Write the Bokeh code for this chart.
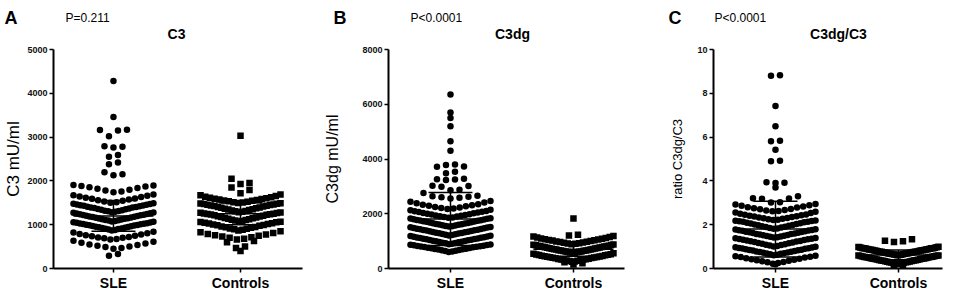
from math import floor
from bokeh.plotting import figure
from bokeh.layouts import row, column
from bokeh.models import FixedTicker
from bokeh.core.properties import value
from bokeh.embed import file_html
from bokeh.resources import INLINE

groups = ["SLE", "Controls"]

# ---------------- data ----------------
c3_sle = [290, 330,
          450, 470, 490, 505, 520, 535, 550, 570, 590, 610, 635,
          660, 675, 690, 700, 710, 720, 735, 745, 760, 775, 790, 805, 820, 840,
          870, 880, 890, 900, 905, 915, 925, 930, 940, 950, 955, 965, 970, 980, 990, 995, 1000,
          1010, 1015, 1020, 1030, 1035, 1045, 1050, 1055, 1065,
          1075, 1085, 1095, 1100, 1110, 1120, 1125, 1135, 1140, 1150, 1160, 1165, 1175, 1180,
          1190, 1200, 1205, 1215, 1220, 1230, 1240, 1245, 1255, 1260, 1270, 1278,
          1285, 1295, 1305, 1315, 1320, 1330, 1340, 1350, 1360, 1370, 1380, 1390, 1395, 1405,
          1410, 1420, 1430, 1440, 1445, 1455, 1460, 1470, 1480, 1488,
          1500, 1515, 1530, 1545, 1560, 1575, 1590, 1600, 1615, 1630, 1645, 1660, 1675, 1690,
          1740, 1760, 1780, 1800, 1820, 1840, 1855, 1870, 1885, 1895, 1905,
          2130, 2150, 2200, 2380, 2420, 2550, 2590, 2760, 2780, 2790,
          3020, 3150, 3160, 3165, 3460, 4280]
c3_ctl = [400, 470, 500, 600, 630,
          660, 680, 700, 715, 730, 745, 760, 775, 790, 810, 830, 850,
          870, 885, 895, 905, 915, 930, 940, 950, 960, 975, 985, 995, 1005, 1015, 1025, 1035,
          1045, 1055, 1060, 1068,
          1075, 1085, 1095, 1105, 1115, 1125, 1135, 1145, 1155, 1165, 1175, 1185, 1195, 1205,
          1215, 1225, 1235, 1240, 1245, 1250, 1258, 1265, 1270, 1278,
          1285, 1295, 1305, 1315, 1325, 1335, 1345, 1355, 1365, 1375, 1385, 1395, 1405, 1415,
          1425, 1432, 1440, 1448, 1455, 1462, 1470, 1476, 1482, 1488,
          1495, 1505, 1515, 1525, 1535, 1545, 1555, 1565, 1575, 1585, 1595, 1605, 1615, 1625,
          1640, 1655, 1670, 1690,
          1720, 1790, 1850, 1930, 1950, 2050, 3030]

c3dg_sle = [600, 620, 635, 650, 665, 680, 690, 700, 715, 725, 740, 750, 760, 775, 785, 795,
            805, 815, 825, 835, 845, 855, 865, 875,
            890, 905, 920, 930, 945, 955, 970, 980, 995, 1005, 1015, 1030, 1040, 1050, 1065,
            1075, 1085, 1100, 1110, 1120, 1135, 1145, 1160, 1170, 1185, 1195,
            1210, 1225, 1235, 1250, 1260, 1275, 1285, 1300, 1310, 1320, 1335, 1345, 1360, 1370,
            1385, 1395, 1405, 1420, 1430, 1445, 1455, 1470, 1480, 1495, 1505, 1515,
            1530, 1545, 1555, 1570, 1580, 1595, 1605, 1620, 1630, 1640, 1655, 1665, 1680, 1690,
            1705, 1715, 1725, 1740, 1750, 1765, 1775, 1790, 1800, 1815, 1825, 1835,
            1850, 1865, 1880, 1895, 1910, 1925, 1940, 1955, 1970, 1985, 2000, 2015, 2030, 2045,
            2060, 2075, 2090, 2105, 2125, 2150,
            2170, 2190, 2210, 2230, 2250, 2270, 2290, 2310, 2330, 2350, 2380, 2410, 2440, 2470,
            2560, 2580, 2600, 2620, 2640, 2660, 2760,
            2860, 2880, 2990, 3010, 3020, 3230, 3250, 3260, 3280,
            3480, 3530, 3720, 3730, 3780, 3800,
            4300, 4650, 5200, 5500, 5700, 6360]
c3dg_ctl = [150, 190, 230,
            250, 260, 270, 280, 290, 300, 310, 320, 330, 340, 350, 360, 370, 380, 390, 400,
            410, 420, 430, 440, 450, 460, 470, 480, 490, 500, 510, 525, 540, 555,
            565, 575, 585, 590, 600, 610, 620, 625, 635, 645, 655, 660, 670, 680, 690, 695,
            705, 715, 725, 730, 740, 750, 760, 765, 775, 785, 795, 800, 810, 820, 830, 835,
            845, 855, 865, 875,
            885, 900, 910, 925, 940, 950, 965, 980, 990, 1005, 1020, 1030, 1045, 1060, 1070,
            1085, 1100, 1115, 1130, 1150, 1170, 1190,
            1210, 1230, 1830]

ratio_sle = [0.19,
             0.22, 0.25, 0.28, 0.30, 0.33, 0.35, 0.38, 0.40, 0.42, 0.45, 0.47, 0.50, 0.52, 0.54,
             0.56, 0.58,
             0.61, 0.63, 0.65, 0.67, 0.68, 0.70, 0.72, 0.73, 0.75, 0.77, 0.78, 0.80, 0.82, 0.83,
             0.85, 0.86, 0.88, 0.90, 0.91, 0.93, 0.94, 0.96, 0.97, 0.99,
             1.01, 1.03, 1.05, 1.07, 1.09, 1.11, 1.13, 1.15, 1.17, 1.19, 1.21, 1.23, 1.24, 1.26,
             1.28, 1.30, 1.31, 1.33, 1.35, 1.36, 1.38, 1.39,
             1.41, 1.43, 1.45, 1.46, 1.48, 1.50, 1.52, 1.53, 1.55, 1.57, 1.58, 1.60, 1.62, 1.63,
             1.65, 1.67, 1.68, 1.70, 1.72, 1.73, 1.75, 1.76, 1.78, 1.79,
             1.81, 1.83, 1.85, 1.87, 1.89, 1.91, 1.93, 1.95, 1.97, 1.99, 2.01, 2.03, 2.05, 2.07,
             2.09, 2.11, 2.13, 2.14, 2.16, 2.17, 2.18, 2.19,
             2.21, 2.23, 2.25, 2.27, 2.29, 2.31, 2.33, 2.35, 2.37, 2.39, 2.41, 2.43, 2.45, 2.47,
             2.50, 2.53, 2.56, 2.59,
             2.61, 2.63, 2.65, 2.67, 2.70, 2.72, 2.75, 2.78, 2.80, 2.83, 2.86, 2.89, 2.92, 2.95,
             3.01, 3.03, 3.18, 3.20, 3.21, 3.30,
             3.70, 3.90, 3.92, 3.94, 4.90, 4.92, 5.42, 5.81, 5.83, 6.50, 7.42, 8.80, 8.82]
ratio_ctl = [0.12, 0.16,
             0.21, 0.22, 0.23, 0.24, 0.25, 0.26, 0.27, 0.28, 0.29, 0.30, 0.31, 0.32, 0.33, 0.34,
             0.35, 0.36, 0.37, 0.38, 0.39, 0.40, 0.41, 0.42, 0.43, 0.44, 0.45, 0.46, 0.47, 0.48,
             0.49, 0.50, 0.51, 0.52, 0.53, 0.54, 0.55, 0.56, 0.57, 0.58, 0.59, 0.595,
             0.61, 0.62, 0.63, 0.63, 0.64, 0.65, 0.66, 0.67, 0.67, 0.68, 0.69, 0.70, 0.71, 0.72,
             0.72, 0.73, 0.74, 0.75, 0.76, 0.77, 0.77, 0.78, 0.79, 0.80, 0.81, 0.82, 0.82, 0.83,
             0.84, 0.85, 0.86, 0.87, 0.87, 0.88, 0.89, 0.90, 0.91, 0.92, 0.92, 0.93, 0.94, 0.95,
             0.96, 0.97, 0.98, 0.99,
             1.21, 1.25, 1.27, 1.34]

# mean and spread bars (SLE, Controls) per panel
bar_mean = [[1200, 1250], [1810, 700], [1.80, 0.62]]
bar_upper = [[1550, 1500], [2780, 950], [3.07, 0.85]]
bar_lower = [[850, 1000], [840, 450], [0.53, 0.40]]

titles = ["C3", "C3dg", "C3dg/C3"]
letters = ["A", "B", "C"]
pvalues = ["P=0.211", "P<0.0001", "P<0.0001"]
ylabels = ["C3 mU/ml", "C3dg mU/ml", "ratio C3dg/C3"]
yticks = [[0, 1000, 2000, 3000, 4000, 5000],
          [0, 2000, 4000, 6000, 8000],
          [0, 2, 4, 6, 8, 10]]
ymax = [5000, 8000, 10]
sle_data = [c3_sle, c3dg_sle, ratio_sle]
ctl_data = [c3_ctl, c3dg_ctl, ratio_ctl]

# ---------------- layout ----------------
FONT = "Liberation Sans"
HEAD_H = 43
TOP, FRAME_H, BOTTOM = 6, 222, 22
H = TOP + FRAME_H + BOTTOM
specs = [
    dict(width=320, left=53, right=18, xr=(0.528, 2.488), binw=210, bino=230,
         ylab_size="17px", ylab_standoff=1),
    dict(width=320, left=68, right=16, xr=(0.496, 2.415), binw=320, bino=560,
         ylab_size="16px", ylab_standoff=18),
    dict(width=322, left=73, right=20, xr=(0.496, 2.358), binw=0.4, bino=0.2,
         ylab_size="13px", ylab_standoff=9),
]
ctl_bin_origin = [230, 560, -0.2]
TOTAL_W = sum(s["width"] for s in specs)
# header text anchors, page pixels
letter_x = [4, 333, 668]
p_x = [65, 410, 714]
title_x = [176, 512, 838]

STEP_PX = 9.0
HALF_PX = 40.0


def swarm(values, center, binw, origin, ppu):
    bins = {}
    for v in values:
        k = floor((v - origin) / binw + 1e-9)
        bins.setdefault(k, []).append(v)
    xs, ys = [], []
    for k in sorted(bins):
        vs = sorted(bins[k])
        n = len(vs)
        step = STEP_PX if n == 1 else min(STEP_PX, 2 * HALF_PX / (n - 1))
        for i, v in enumerate(vs):
            if n % 2:
                slot = ((i + 1) // 2) * (1 if i % 2 else -1)
            else:
                slot = (i // 2 + 0.5) * (-1 if i % 2 == 0 else 1)
            xs.append(center + slot * step / ppu)
            ys.append(v)
    return xs, ys


# one header strip across all panels (pixel coordinates, y measured up from its bottom)
head = figure(width=TOTAL_W, height=HEAD_H, x_range=(0, TOTAL_W), y_range=(0, HEAD_H),
              x_axis_type=None, y_axis_type=None,
              output_backend="svg", toolbar_location=None,
              min_border_left=0, min_border_right=0, min_border_top=0, min_border_bottom=0)
head.grid.visible = False
head.outline_line_color = None
head.text(x=letter_x, y=[HEAD_H - 17] * 3, text=letters, text_font=value(FONT),
          text_font_style="bold", text_font_size="18px", text_color="black",
          text_baseline="alphabetic")
head.text(x=p_x, y=[HEAD_H - 17] * 3, text=pvalues, text_font=value(FONT),
          text_font_size="12px", text_color="black", text_baseline="alphabetic")
head.text(x=title_x, y=[HEAD_H - 33] * 3, text=titles, text_font=value(FONT),
          text_font_style="bold", text_font_size="14px", text_color="black",
          text_align="center", text_baseline="alphabetic")

figs = []
for j, s in enumerate(specs):
    frame_w = s["width"] - s["left"] - s["right"]
    ppu = frame_w / (s["xr"][1] - s["xr"][0])
    p = figure(width=s["width"], height=H, x_range=s["xr"], y_range=(0, ymax[j]),
               output_backend="svg", toolbar_location=None,
               min_border_left=s["left"], min_border_right=s["right"],
               min_border_top=TOP, min_border_bottom=BOTTOM)
    p.outline_line_color = None
    p.grid.visible = False

    # axes
    p.xaxis.ticker = FixedTicker(ticks=[1, 2])
    p.xaxis.major_label_overrides = {1: groups[0], 2: groups[1]}
    p.xaxis.major_label_text_font = FONT
    p.xaxis.major_label_text_font_style = "bold"
    p.xaxis.major_label_text_font_size = "14px"
    p.xaxis.major_label_text_color = "black"
    p.xaxis.major_label_standoff = 2
    p.yaxis.ticker = FixedTicker(ticks=yticks[j])
    p.yaxis.major_label_text_font = FONT
    p.yaxis.major_label_text_font_style = "bold"
    p.yaxis.major_label_text_font_size = "9px"
    p.yaxis.major_label_text_color = "#111111"
    p.yaxis.major_label_standoff = 2
    p.yaxis.axis_label = ylabels[j]
    p.yaxis.axis_label_text_font = FONT
    p.yaxis.axis_label_text_font_style = "normal"
    p.yaxis.axis_label_text_font_size = s["ylab_size"]
    p.yaxis.axis_label_text_color = "black"
    p.yaxis.axis_label_standoff = s["ylab_standoff"]
    for ax in (p.xaxis, p.yaxis):
        ax.axis_line_width = 2
        ax.axis_line_color = "black"
        ax.major_tick_in = 0
        ax.major_tick_out = 4
        ax.major_tick_line_width = 1.5
        ax.major_tick_line_color = "black"
        ax.minor_tick_line_color = None

    # points
    xs, ys = swarm(sle_data[j], 1, s["binw"], s["bino"], ppu)
    p.scatter(xs, ys, marker="circle", size=6.5, fill_color="black", line_color=None)
    xs, ys = swarm(ctl_data[j], 2, s["binw"], ctl_bin_origin[j], ppu)
    p.scatter(xs, ys, marker="square", size=6.5, fill_color="black", line_color=None)

    # mean / spread bars
    mw = 40 / ppu
    cw = 22 / ppu
    for g, c in enumerate([1, 2]):
        m, u, l = bar_mean[j][g], bar_upper[j][g], bar_lower[j][g]
        p.segment(x0=[c - mw, c - cw, c - cw, c], y0=[m, u, l, l],
                  x1=[c + mw, c + cw, c + cw, c], y1=[m, u, l, u],
                  line_color="black", line_width=1.5)
    figs.append(p)

layout = column(head, row(*figs, spacing=0), spacing=0)
open("out.html", "w").write(file_html(layout, INLINE))
